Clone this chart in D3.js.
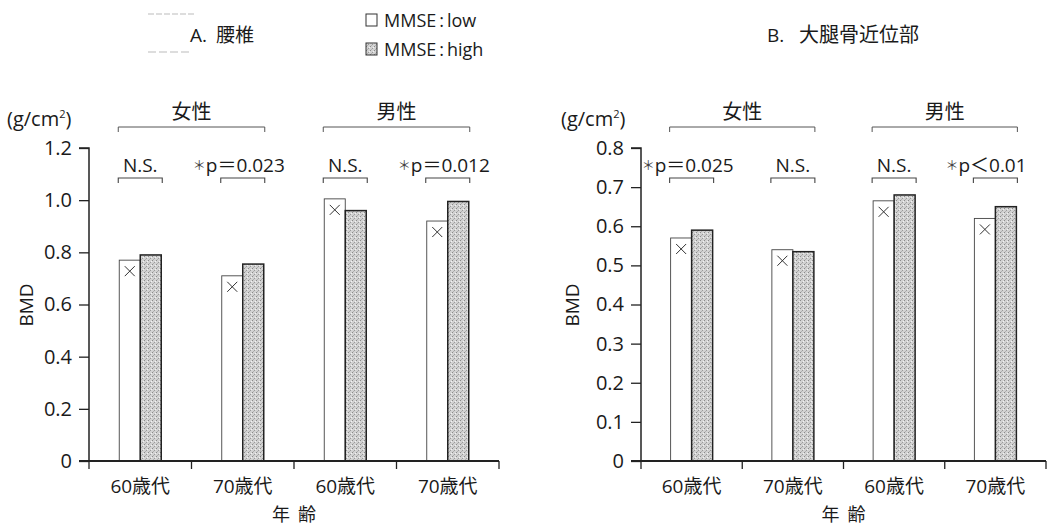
<!DOCTYPE html>
<html>
<head>
<meta charset="utf-8">
<script src="https://cdn.jsdelivr.net/npm/d3@7"></script>
<style>
  body { margin: 0; background: #fff; }
  svg text { font-family: "Open Sans", "Noto Sans CJK JP", sans-serif; fill: #1a1a1a; }
</style>
</head>
<body>
<svg id="chart" width="1049" height="528"></svg>
<script>
// data
const ageGroups = ["60歳代", "70歳代", "60歳代", "70歳代"];
const sexGroups = ["女性", "男性"];
const series = ["MMSE\u2009:\u2009low", "MMSE\u2009:\u2009high"];

const lumbarLow  = [0.77, 0.71, 1.005, 0.92];
const lumbarHigh = [0.79, 0.755, 0.96, 0.995];
const lumbarTicks = [0, 0.2, 0.4, 0.6, 0.8, 1.0, 1.2];
const lumbarSig = ["N.S.", "p＝0.023", "N.S.", "p＝0.012"];

const femurLow  = [0.57, 0.54, 0.665, 0.62];
const femurHigh = [0.59, 0.535, 0.68, 0.65];
const femurTicks = [0, 0.1, 0.2, 0.3, 0.4, 0.5, 0.6, 0.7, 0.8];
const femurSig = ["p＝0.025", "N.S.", "N.S.", "p＜0.01"];

const svg = d3.select("#chart");

// stipple pattern for the high bars
const defs = svg.append("defs");
const pat = defs.append("pattern").attr("id", "stip")
  .attr("width", 4).attr("height", 4).attr("patternUnits", "userSpaceOnUse");
pat.append("rect").attr("width", 4).attr("height", 4).attr("fill", "#d2d2d2");
pat.append("rect").attr("x", 0).attr("y", 0).attr("width", 1).attr("height", 1).attr("fill", "#8a8a8a");
pat.append("rect").attr("x", 2).attr("y", 2).attr("width", 1).attr("height", 1).attr("fill", "#9a9a9a");
pat.append("rect").attr("x", 3).attr("y", 1).attr("width", 1).attr("height", 1).attr("fill", "#f2f2f2");
pat.append("rect").attr("x", 1).attr("y", 3).attr("width", 1).attr("height", 1).attr("fill", "#b0b0b0");

function panel(opt) {
  const g = svg.append("g");
  const x = d3.scaleBand().domain(d3.range(4)).range([opt.x0, opt.x1]);
  const y = d3.scaleLinear().domain([0, opt.max]).range([461, 148]);
  const barW = 21;

  // bars
  opt.low.forEach((v, i) => {
    const cx = x(i) + x.bandwidth() / 2;
    g.append("rect")
      .attr("x", cx - barW).attr("y", y(v))
      .attr("width", barW).attr("height", y(0) - y(v))
      .attr("fill", "#fff").attr("stroke", "#444").attr("stroke-width", 0.9);
    // x mark
    const mx = cx - barW / 2, my = y(v) + 11;
    g.append("path")
      .attr("d", `M${mx - 5},${my - 5}L${mx + 5},${my + 5}M${mx + 5},${my - 5}L${mx - 5},${my + 5}`)
      .attr("stroke", "#333").attr("stroke-width", 1);
  });
  opt.high.forEach((v, i) => {
    const cx = x(i) + x.bandwidth() / 2;
    g.append("rect")
      .attr("x", cx).attr("y", y(v))
      .attr("width", barW).attr("height", y(0) - y(v))
      .attr("fill", "url(#stip)").attr("stroke", "#222").attr("stroke-width", 1.5);
  });

  // y axis
  const yAxis = g.append("g").attr("transform", `translate(${opt.x0},0)`)
    .call(d3.axisLeft(y).tickValues(opt.ticks).tickSize(10).tickPadding(7)
      .tickFormat(d => d === 0 ? "0" : d3.format(opt.fmt)(d)));
  yAxis.attr("font-size", 20);
  yAxis.select(".domain").attr("d", `M-10,${y(opt.max)}H0V${y(0)}`).attr("stroke", "#222").attr("stroke-width", 1.5);
  yAxis.selectAll(".tick line").attr("stroke", "#222").attr("stroke-width", 1.3);
  yAxis.selectAll("text").attr("font-size", 20).attr("fill", "#1a1a1a")
    .attr("font-family", "'Open Sans', sans-serif");

  // x axis
  const xAxis = g.append("g").attr("transform", "translate(0,461)");
  xAxis.append("line").attr("x1", opt.x0 - 10).attr("x2", opt.x1)
    .attr("stroke", "#222").attr("stroke-width", 1.8);
  d3.range(5).forEach(k => {
    const tx = opt.x0 + k * x.step();
    xAxis.append("line").attr("x1", tx).attr("x2", tx).attr("y1", 0).attr("y2", 8)
      .attr("stroke", "#222").attr("stroke-width", 1.3);
  });
  ageGroups.forEach((a, i) => {
    xAxis.append("text").attr("x", x(i) + x.bandwidth() / 2).attr("y", 32)
      .attr("text-anchor", "middle").attr("font-size", 19).text(a);
  });
  g.append("text").attr("x", (opt.x0 + opt.x1) / 2 + 4).attr("y", 521)
    .attr("text-anchor", "middle").attr("font-size", 18).attr("letter-spacing", 8).text("年齢");

  // axis titles
  g.append("text").attr("x", opt.unitX).attr("y", 126).attr("font-size", 20)
    .html('(g/cm<tspan font-size="11" dy="-8">2</tspan><tspan dy="8">)</tspan>');
  g.append("text").attr("transform", `translate(${opt.bmdX},305) rotate(-90)`)
    .attr("text-anchor", "middle").attr("font-size", 19).text("BMD");

  // sex group brackets
  sexGroups.forEach((s, k) => {
    const xa = x(2 * k) + x.bandwidth() / 2 - barW - 1;
    const xb = x(2 * k + 1) + x.bandwidth() / 2 + barW + 1;
    g.append("path").attr("d", `M${xa},132V127H${xb}V132`)
      .attr("fill", "none").attr("stroke", "#555").attr("stroke-width", 1);
    g.append("text").attr("x", (xa + xb) / 2).attr("y", 119)
      .attr("text-anchor", "middle").attr("font-size", 20).text(s);
  });

  // significance brackets
  opt.sig.forEach((s, i) => {
    const cx = x(i) + x.bandwidth() / 2;
    const xa = cx - barW - 1, xb = cx + barW + 1;
    g.append("path").attr("d", `M${xa},183V178H${xb}V183`)
      .attr("fill", "none").attr("stroke", "#444").attr("stroke-width", 1.1);
    const t = g.append("text").attr("y", 172).attr("font-size", 19);
    if (s === "N.S.") {
      t.attr("x", cx).attr("text-anchor", "middle").text(s);
    } else {
      t.attr("x", xa - 28).attr("text-anchor", "start");
      t.append("tspan").attr("font-size", 13).attr("dy", -2).attr("fill", "#444").text("＊");
      t.append("tspan").attr("dy", 2).text(s);
    }
  });
}

panel({ x0: 89, x1: 499, max: 1.2, ticks: lumbarTicks, fmt: ".1f",
        low: lumbarLow, high: lumbarHigh, sig: lumbarSig, unitX: 7, bmdX: 33 });
panel({ x0: 641, x1: 1046, max: 0.8, ticks: femurTicks, fmt: ".1f",
        low: femurLow, high: femurHigh, sig: femurSig, unitX: 561, bmdX: 579 });

// titles and legend
svg.append("text").attr("x", 190).attr("y", 42).attr("font-size", 19).text("A.");
svg.append("text").attr("x", 216).attr("y", 42).attr("font-size", 19).text("腰椎");
svg.append("text").attr("x", 767).attr("y", 42).attr("font-size", 19).text("B.");
svg.append("text").attr("x", 799).attr("y", 42).attr("font-size", 20).text("大腿骨近位部");
svg.append("line").attr("x1", 148).attr("x2", 196).attr("y1", 14).attr("y2", 14)
  .attr("stroke", "#bbb").attr("stroke-dasharray", "6,2");
svg.append("line").attr("x1", 148).attr("x2", 192).attr("y1", 52).attr("y2", 52)
  .attr("stroke", "#bbb").attr("stroke-dasharray", "8,3");

const legend = svg.append("g").attr("transform", "translate(366,14)");
series.forEach((s, i) => {
  legend.append("rect").attr("x", 0).attr("y", i * 29).attr("width", 11).attr("height", 12)
    .attr("fill", i === 0 ? "#fff" : "url(#stip)").attr("stroke", "#333").attr("stroke-width", 1);
  legend.append("text").attr("x", 18).attr("y", i * 29 + 13).attr("font-size", 18).text(s);
});
</script>
</body>
</html>
